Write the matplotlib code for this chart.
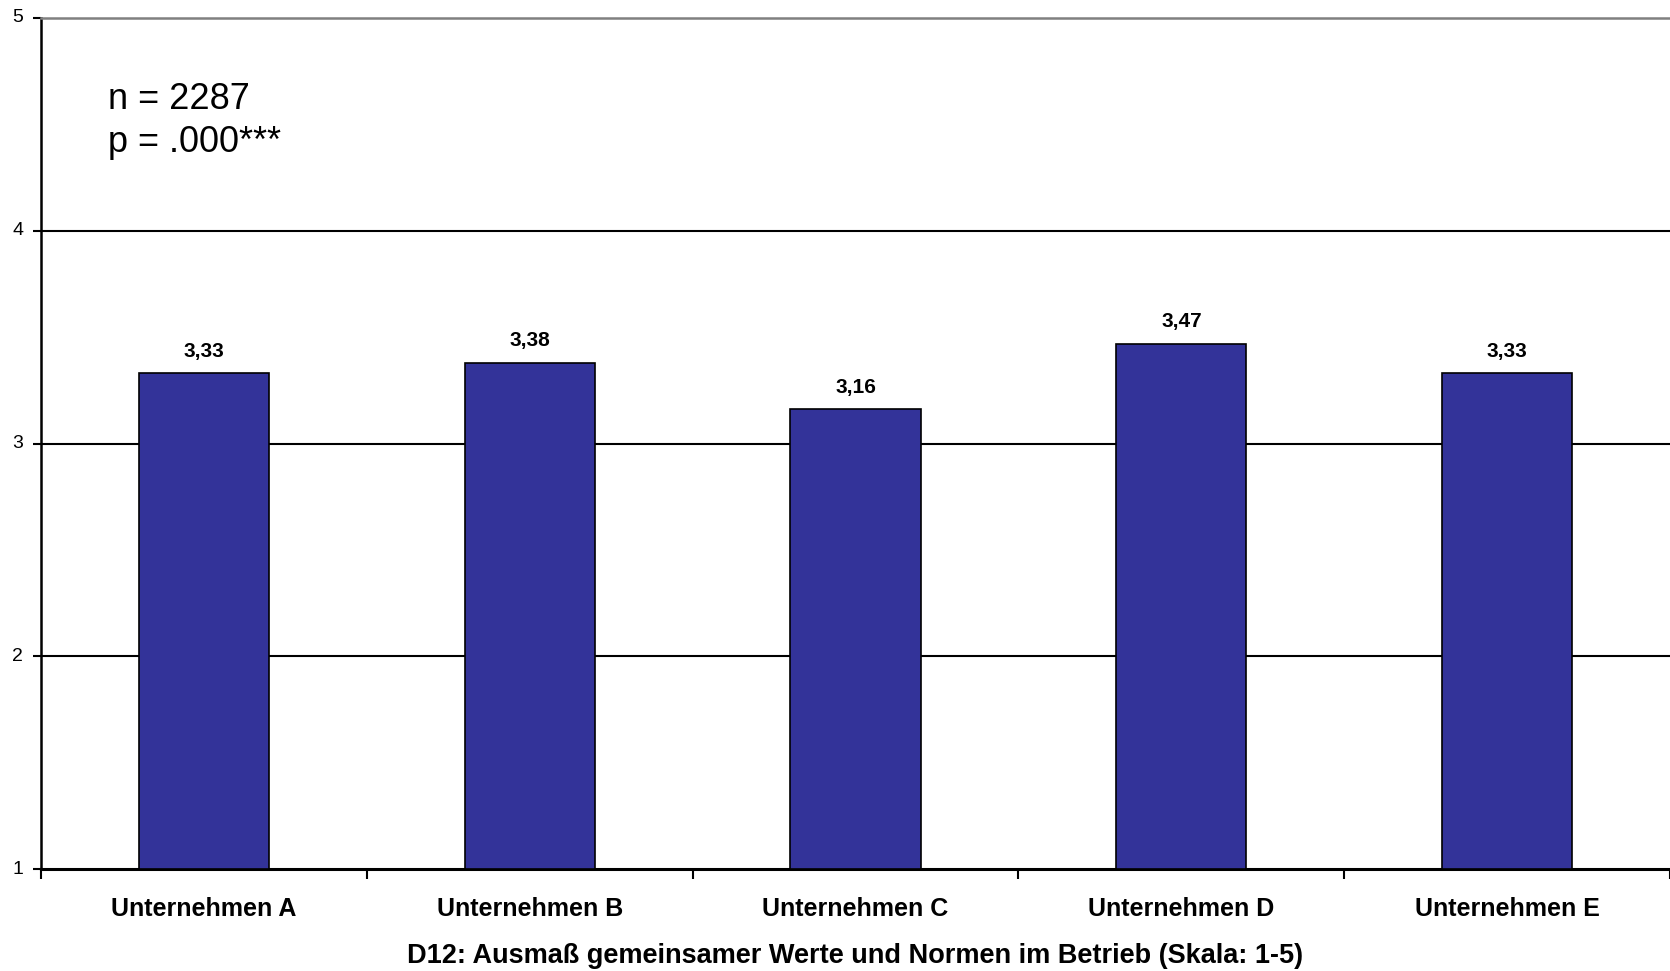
import matplotlib
matplotlib.use("Agg")
import matplotlib.pyplot as plt
import numpy as np

# Mean ratings per company (scale 1-5)
firmen = ["Unternehmen A", "Unternehmen B", "Unternehmen C",
          "Unternehmen D", "Unternehmen E"]
mittelwerte = [3.33, 3.38, 3.16, 3.47, 3.33]
y_ticks = [1, 2, 3, 4, 5]

plt.rcParams["font.family"] = ["Liberation Sans", "DejaVu Sans"]

fig = plt.figure(figsize=(16.7, 9.71), dpi=100)
ax = fig.add_axes([0.0246, 0.105, 0.9754, 0.8765])

x = np.arange(len(firmen))
ax.bar(x, [m - 1 for m in mittelwerte], bottom=1, width=0.4,
       color="#333399", edgecolor="black", linewidth=1.2, zorder=3)

for xi, m in zip(x, mittelwerte):
    ax.annotate(f"{m:.2f}".replace(".", ","), (xi, m), xytext=(0, 9),
                textcoords="offset points", ha="center", va="bottom",
                fontsize=15, fontweight="bold")

ax.set_xlim(-0.5, len(firmen) - 0.5)
ax.set_ylim(1, 5)
ax.set_yticks(y_ticks)
ax.set_yticklabels([])
for t in y_ticks[1:-1]:
    ax.axhline(t, color="black", linewidth=1.5, zorder=1)
# y labels placed as plain text left of the axis
for t in y_ticks:
    ax.annotate(str(t), (0, t), xycoords=("axes fraction", "data"),
                xytext=(-13, 0), textcoords="offset points",
                ha="right", va="center", fontsize=14)

# category ticks sit between the bars
ax.set_xticks(x)
ax.set_xticklabels(firmen, fontweight="bold")
ax.tick_params(axis="x", length=0, pad=20, labelsize=18)
ax.set_xticks(np.arange(len(firmen) + 1) - 0.5, minor=True)
ax.tick_params(axis="x", which="minor", length=7, width=1.5, direction="out")
ax.tick_params(axis="y", length=6, width=1.5)

ax.spines["left"].set_linewidth(1.8)
ax.spines["bottom"].set_linewidth(2.2)
ax.spines["top"].set_color("#808080")
ax.spines["top"].set_linewidth(1.8)
ax.spines["right"].set_visible(False)

ax.set_xlabel("D12: Ausmaß gemeinsamer Werte und Normen im Betrieb (Skala: 1-5)",
              fontsize=19.5, fontweight="bold", labelpad=16)

ax.text(0.041, 0.925, "n = 2287\np = .000***", transform=ax.transAxes,
        fontsize=26, va="top", ha="left", linespacing=1.32)

fig.savefig("out.png", dpi=100)
